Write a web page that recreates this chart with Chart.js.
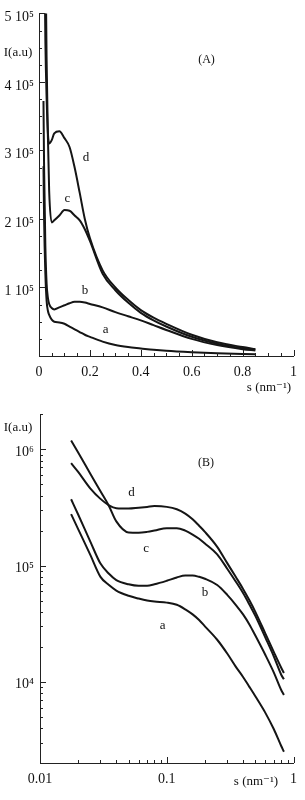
<!DOCTYPE html>
<html>
<head>
<meta charset="utf-8">
<script src="https://cdn.jsdelivr.net/npm/chart.js@4.4.1/dist/chart.umd.min.js"></script>
<style>
  html, body { margin: 0; padding: 0; background: #fff; }
  #wrap { width: 305px; height: 800px; }
  canvas { display: block; }
</style>
</head>
<body>
<div id="wrap">
  <canvas id="chartA" width="305" height="400"></canvas>
  <canvas id="chartB" width="305" height="400"></canvas>
</div>
<script>
// Panel (A): linear axes, intensity vs s
const sA = [0.0176, 0.02, 0.025, 0.03, 0.035, 0.04, 0.05, 0.06, 0.08, 0.1, 0.12, 0.14, 0.16, 0.18, 0.2,
            0.25, 0.3, 0.35, 0.4, 0.45, 0.5, 0.6, 0.7, 0.8, 0.85];
const aA = [2.77e5, 2.0e5, 1.2e5, 0.8e5, 0.66e5, 0.6e5, 0.53e5, 0.5e5, 0.49e5, 0.47e5, 0.43e5, 0.39e5, 0.35e5, 0.31e5, 0.28e5,
            0.21e5, 0.16e5, 0.13e5, 0.11e5, 0.09e5, 0.075e5, 0.055e5, 0.04e5, 0.03e5, 0.025e5];
const bA = [3.72e5, 2.75e5, 1.6e5, 1.05e5, 0.85e5, 0.76e5, 0.7e5, 0.68e5, 0.71e5, 0.74e5, 0.77e5, 0.79e5, 0.79e5, 0.78e5, 0.76e5,
            0.71e5, 0.64e5, 0.58e5, 0.52e5, 0.45e5, 0.38e5, 0.25e5, 0.16e5, 0.1e5, 0.08e5];
const cA = [11.9e5, 9.4e5, 6.1e5, 4.3e5, 3.2e5, 2.4e5, 1.95e5, 1.98e5, 2.05e5, 2.13e5, 2.12e5, 2.05e5, 1.98e5, 1.85e5, 1.68e5,
            1.2e5, 0.96e5, 0.78e5, 0.63e5, 0.52e5, 0.43e5, 0.28e5, 0.18e5, 0.115e5, 0.095e5];
const dA = [7.6e5, 6.4e5, 4.6e5, 3.75e5, 3.25e5, 3.1e5, 3.15e5, 3.25e5, 3.28e5, 3.18e5, 3.05e5, 2.75e5, 2.38e5, 2.0e5, 1.72e5,
            1.25e5, 1.0e5, 0.82e5, 0.67e5, 0.56e5, 0.47e5, 0.31e5, 0.2e5, 0.13e5, 0.1e5];

// Panel (B): log-log axes
const sB = [0.0176, 0.02, 0.025, 0.03, 0.035, 0.04, 0.05, 0.06, 0.07, 0.08, 0.1, 0.12, 0.14, 0.16, 0.18, 0.2,
            0.25, 0.3, 0.35, 0.4, 0.45, 0.5, 0.6, 0.7, 0.8, 0.84];
const aB = [2.77e5, 2.06e5, 1.23e5, 8.0e4, 6.8e4, 6.1e4, 5.5e4, 5.2e4, 5.0e4, 4.9e4, 4.8e4, 4.6e4, 4.2e4, 3.8e4, 3.4e4, 3.0e4,
            2.3e4, 1.75e4, 1.35e4, 1.1e4, 9.0e3, 7.5e3, 5.4e3, 3.9e3, 2.8e3, 2.5e3];
const bB = [3.72e5, 2.75e5, 1.6e5, 1.04e5, 8.5e4, 7.5e4, 6.9e4, 6.7e4, 6.7e4, 6.9e4, 7.4e4, 7.9e4, 8.2e4, 8.2e4, 8.0e4, 7.7e4,
            6.8e4, 5.6e4, 4.6e4, 3.8e4, 3.1e4, 2.5e4, 1.7e4, 1.2e4, 8.5e3, 7.7e3];
const cB = [1.19e6, 9.4e5, 6.15e5, 4.36e5, 3.26e5, 2.4e5, 1.93e5, 1.92e5, 1.95e5, 2.0e5, 2.1e5, 2.1e5, 2.0e5, 1.85e5, 1.7e5, 1.55e5,
            1.25e5, 9.4e4, 7.3e4, 5.8e4, 4.6e4, 3.7e4, 2.4e4, 1.65e4, 1.15e4, 1.05e4];
const dB = [7.6e5, 6.4e5, 4.6e5, 3.75e5, 3.3e5, 3.12e5, 3.1e5, 3.15e5, 3.2e5, 3.25e5, 3.2e5, 3.05e5, 2.8e5, 2.5e5, 2.2e5, 1.95e5,
            1.45e5, 1.05e5, 8.0e4, 6.3e4, 5.0e4, 4.0e4, 2.6e4, 1.8e4, 1.32e4, 1.19e4];

// tick labels
const xTicksA = [0, 0.2, 0.4, 0.6, 0.8, 1];
const yTicksA = [1e5, 2e5, 3e5, 4e5, 5e5];
const xTicksB = [0.01, 0.1, 1];
const yTicksB = [1e4, 1e5, 1e6];
const supers = { 4: '⁴', 5: '⁵', 6: '⁶' };

const serif = "'Liberation Serif', 'DejaVu Serif', serif";

function pts(xs, ys) {
  return xs.map((x, i) => ({ x: x, y: ys[i] }));
}

function curves(xs, list) {
  return list.map(ys => ({
    data: pts(xs, ys),
    borderColor: '#151515',
    borderWidth: 2,
    pointRadius: 0,
    cubicInterpolationMode: 'monotone',
    fill: false
  }));
}

// small marks pointing into the plot, like the original figure
function linMarks(step, n, every) {
  const out = [];
  for (let k = 1; k <= n; k++) out.push({ v: k * step, len: k % every === 0 ? 6 : 3 });
  return out;
}
function logMarks(lo, hi) {
  const out = [];
  for (let e = -3; e <= 7; e++) {
    for (let m = 1; m <= 9; m++) {
      const v = m * Math.pow(10, e);
      if (v > lo * 1.0001 && v <= hi * 1.0001) out.push({ v: v, len: m === 1 ? 6 : 3 });
    }
  }
  return out;
}

// inside tick marks + text labels, one plugin per panel
function panelMarks(xMarks, yMarks, notes) {
  return {
    id: 'panelMarks',
    afterDraw(chart) {
      const ctx = chart.ctx;
      const area = chart.chartArea;
      const xs = chart.scales.x, ys = chart.scales.y;
      ctx.save();
      ctx.strokeStyle = '#222';
      ctx.lineWidth = 1;
      ctx.beginPath();
      xMarks.forEach(m => {
        const px = Math.round(xs.getPixelForValue(m.v)) + 0.5;
        ctx.moveTo(px, area.bottom);
        ctx.lineTo(px, area.bottom - m.len);
      });
      yMarks.forEach(m => {
        const py = Math.round(ys.getPixelForValue(m.v)) + 0.5;
        ctx.moveTo(area.left, py);
        ctx.lineTo(area.left + m.len, py);
      });
      ctx.stroke();

      ctx.fillStyle = '#111';
      ctx.textAlign = 'center';
      ctx.textBaseline = 'middle';
      notes.forEach(n => {
        ctx.font = n.font;
        const px = n.at ? n.at[0] : xs.getPixelForValue(n.s);
        const py = n.at ? n.at[1] : ys.getPixelForValue(n.i);
        ctx.fillText(n.text, px, py);
      });
      ctx.restore();
    }
  };
}

function axisStyle(extra) {
  return Object.assign({
    grid: { display: false, drawTicks: false },
    border: { display: true, color: '#222', width: 1 },
  }, extra);
}

// (A)
new Chart(document.getElementById('chartA'), {
  type: 'line',
  data: { datasets: curves(sA, [aA, bA, cA, dA]) },
  plugins: [panelMarks(linMarks(0.05, 20, 4), linMarks(0.25e5, 20, 4), [
    { text: 'I(a.u)', at: [18, 53], font: '13px ' + serif },
    { text: '(A)', s: 0.658, i: 4.32e5, font: '12px ' + serif },
    { text: 'd', s: 0.185, i: 2.89e5, font: '13px ' + serif },
    { text: 'c', s: 0.112, i: 2.3e5, font: '13px ' + serif },
    { text: 'b', s: 0.181, i: 0.96e5, font: '13px ' + serif },
    { text: 'a', s: 0.262, i: 0.39e5, font: '13px ' + serif },
    { text: 's (nm⁻¹)', at: [269, 388], font: '13px ' + serif }
  ])],
  options: {
    responsive: false,
    animation: false,
    layout: { padding: { left: 0, right: 6, top: 8, bottom: 0 } },
    plugins: { legend: { display: false }, tooltip: { enabled: false } },
    scales: {
      x: axisStyle({
        type: 'linear', min: 0, max: 1,
        afterFit: s => { s.height = 44; },
        afterBuildTicks: s => { s.ticks = xTicksA.map(v => ({ value: v })); },
        ticks: { padding: 8, color: '#111', font: { family: serif, size: 14 }, maxRotation: 0, autoSkip: false,
                 callback: v => String(v) }
      }),
      y: axisStyle({
        type: 'linear', min: 0, max: 5e5,
        afterFit: s => { s.width = 39; },
        afterBuildTicks: s => { s.ticks = yTicksA.map(v => ({ value: v })); },
        ticks: { padding: 5, labelOffset: 4, color: '#111', font: { family: serif, size: 14 }, autoSkip: false,
                 callback: v => Math.round(v / 1e5) + ' 10⁵' }
      })
    }
  }
});

// (B)
new Chart(document.getElementById('chartB'), {
  type: 'line',
  data: { datasets: curves(sB, [aB, bB, cB, dB]) },
  plugins: [panelMarks(logMarks(0.01, 1), logMarks(2e3, 2e6), [
    { text: 'I(a.u)', at: [18, 28], font: '13px ' + serif },
    { text: '(B)', s: 0.204, i: 7.7e5, font: '12px ' + serif },
    { text: 'd', s: 0.0526, i: 4.29e5, font: '13px ' + serif },
    { text: 'c', s: 0.0687, i: 1.4e5, font: '13px ' + serif },
    { text: 'b', s: 0.2, i: 5.9e4, font: '13px ' + serif },
    { text: 'a', s: 0.093, i: 3.07e4, font: '13px ' + serif },
    { text: 's (nm⁻¹)', at: [256, 382], font: '13px ' + serif }
  ])],
  options: {
    responsive: false,
    animation: false,
    layout: { padding: { left: 0, right: 7, top: 13, bottom: 0 } },
    plugins: { legend: { display: false }, tooltip: { enabled: false } },
    scales: {
      x: axisStyle({
        type: 'logarithmic', min: 0.01, max: 1,
        afterFit: s => { s.height = 37; },
        afterBuildTicks: s => { s.ticks = xTicksB.map(v => ({ value: v })); },
        ticks: { padding: 8, color: '#111', font: { family: serif, size: 14 }, maxRotation: 0, autoSkip: false,
                 callback: v => String(v) }
      }),
      y: axisStyle({
        type: 'logarithmic', min: 2e3, max: 2e6,
        afterFit: s => { s.width = 40; },
        afterBuildTicks: s => { s.ticks = yTicksB.map(v => ({ value: v })); },
        ticks: { padding: 6, labelOffset: 3, color: '#111', font: { family: serif, size: 14 }, autoSkip: false,
                 callback: v => '10' + supers[Math.round(Math.log10(v))] }
      })
    }
  }
});
</script>
</body>
</html>
